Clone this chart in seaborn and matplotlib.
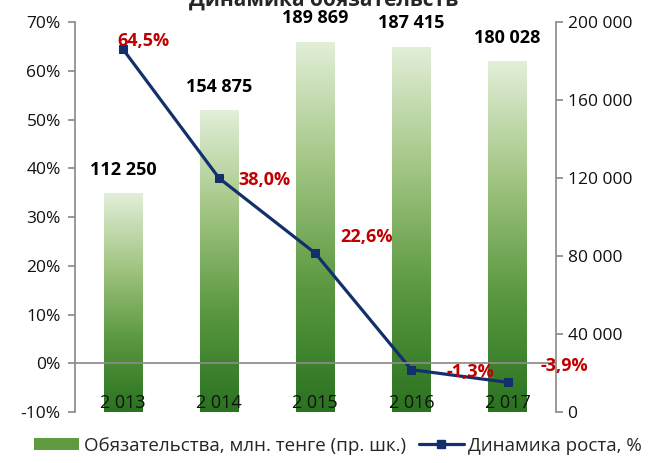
import numpy as np
import matplotlib
matplotlib.use('Agg')
import matplotlib.pyplot as plt
import seaborn as sns
from matplotlib.colors import LinearSegmentedColormap
from matplotlib.lines import Line2D
from matplotlib.patches import Patch
from matplotlib.ticker import FuncFormatter

years = ['2 013', '2 014', '2 015', '2 016', '2 017']
liabilities = [112250, 154875, 189869, 187415, 180028]   # млн. тенге, right axis
growth = [64.5, 38.0, 22.6, -1.3, -3.9]                  # %, left axis
growth_labels = ['64,5%', '38,0%', '22,6%', '-1,3%', '-3,9%']

# where the red labels sit relative to their markers (points)
growth_offsets = [(-4, 6), (14, -1.5), (18, 12), (25, -1.5), (24, 12)]

sns.set_theme(style='white')
plt.rcParams['font.family'] = ['Open Sans', 'DejaVu Sans']

fig, ax = plt.subplots(figsize=(6.5, 4.63), dpi=100)
fig.subplots_adjust(left=0.115, right=0.855, bottom=0.11, top=0.952)
ax2 = ax.twinx()

# bars (right axis)
sns.barplot(x=years, y=liabilities, ax=ax2, width=0.4, color='#5f9a40', linewidth=0)

cmap = LinearSegmentedColormap.from_list('bar_green', ['#2a7220', '#5a9840', '#a2c583', '#e2efd9'])
grad = np.linspace(0, 1, 256).reshape(-1, 1)
for bar in ax2.patches:
    x0, w, h = bar.get_x(), bar.get_width(), bar.get_height()
    img = ax2.imshow(grad, cmap=cmap, origin='lower', aspect='auto',
                     extent=[x0, x0 + w, 0, h], zorder=bar.get_zorder())
    img.set_clip_path(bar)
    bar.set_facecolor('none')

ax2.set_xlim(-0.5, 4.5)
ax2.set_ylim(0, 200000)
ax2.set_yticks(range(0, 200001, 40000))
ax2.yaxis.set_major_formatter(FuncFormatter(lambda v, p: f'{int(v):,}'.replace(',', ' ')))

for i, v in enumerate(liabilities):
    ax2.annotate(f'{v:,}'.replace(',', ' '), (i, v), xytext=(0, 17), textcoords='offset points',
                 ha='center', va='center', fontsize=13, fontweight='bold', color='black')

# growth line (left axis), drawn above the bars
ax.set_zorder(ax2.get_zorder() + 1)
ax.patch.set_visible(False)
sns.lineplot(x=np.arange(len(growth)), y=growth, ax=ax, color='#14306c', linewidth=2.3,
             marker='s', markersize=6, markeredgecolor='#14306c')
for i, (v, lab) in enumerate(zip(growth, growth_labels)):
    ax.annotate(lab, (i, v), xytext=growth_offsets[i], textcoords='offset points',
                ha='left', va='center', fontsize=13, fontweight='bold', color='#c00000')

ax.set_xlim(-0.5, 4.5)
ax.set_ylim(-10, 70)
ax.set_yticks(range(-10, 71, 10))
ax.yaxis.set_major_formatter(FuncFormatter(lambda v, p: f'{int(v)}%'))

# axes styling
grey = '#8c8c8c'
for s in ['top', 'right']:
    ax.spines[s].set_visible(False)
for s in ['top', 'left', 'bottom']:
    ax2.spines[s].set_visible(False)
ax.spines['left'].set_color(grey)
ax.spines['bottom'].set_color(grey)
ax.spines['bottom'].set_position(('data', 0))
ax2.spines['right'].set_color(grey)

ax.set_xticks([])
ax.set_xticks([0.5, 1.5, 2.5, 3.5], minor=True)
ax.tick_params(axis='x', which='minor', direction='out', length=5, color=grey, labelbottom=False)
ax.tick_params(axis='y', direction='out', length=5, color=grey, left=True, labelsize=12.5,
               labelcolor='#111111', pad=5)
ax2.tick_params(axis='y', direction='out', length=5, color=grey, right=True, labelsize=12.5,
                labelcolor='#111111')

for i, y in enumerate(years):
    ax.text(i, 0.022, y, transform=ax.get_xaxis_transform(), ha='center', va='center',
            fontsize=13, color='#111111')

fig.text(0.498, 1 - 6 / 463, 'Динамика обязательств', ha='center', va='baseline',
         fontsize=15, fontweight='bold')

handles = [Patch(facecolor='#5f9a40', edgecolor='none'),
           Line2D([0], [0], color='#14306c', linewidth=2.3, marker='s', markersize=6)]
fig.legend(handles, ['Обязательства, млн. тенге (пр. шк.)', 'Динамика роста, %'],
           loc='lower center', bbox_to_anchor=(0.52, -0.01), ncol=2, frameon=False,
           fontsize=13.5, handlelength=2.4, handleheight=0.6, columnspacing=0.7, handletextpad=0.25,
           borderaxespad=0.3)

fig.savefig('out.png', dpi=100)
